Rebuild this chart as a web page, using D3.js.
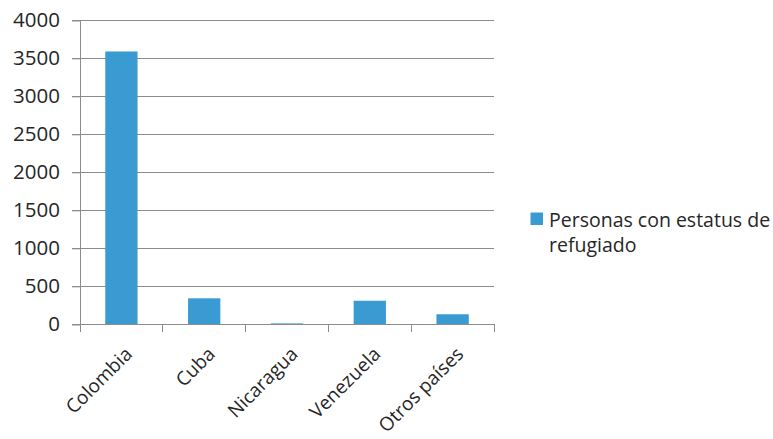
<!DOCTYPE html>
<html><head><meta charset="utf-8">
<script src="https://cdn.jsdelivr.net/npm/d3@7/dist/d3.min.js"></script>
<style>body{margin:0;background:#fff}svg{display:block}</style>
</head><body><svg id="c" width="773" height="439"></svg>
<script>
const categories = ["Colombia","Cuba","Nicaragua","Venezuela","Otros países"];
const values = [3590, 342, 12, 310, 132];
const yTicks = [0,500,1000,1500,2000,2500,3000,3500,4000];
const seriesName = "Personas con estatus de refugiado";

(function(){
const svg = d3.select("#c");
const font = "'Open Sans', sans-serif";
const fs = 19.5;
const txt = "#262626";
const mLeft = 80, mRight = 494, mTop = 20.3, mBottom = 324.3;
const x = d3.scaleBand().domain(categories).range([mLeft, mRight]).paddingInner(0.61).paddingOuter(0.305);
const y = d3.scaleLinear().domain([0, 4000]).range([mBottom, mTop]);

svg.append("g").selectAll("line").data(yTicks).join("line")
  .attr("x1", mLeft - 8).attr("x2", mRight)
  .attr("y1", d => y(d)).attr("y2", d => y(d))
  .attr("stroke", "#8c8c8c").attr("stroke-width", 1).attr("shape-rendering","crispEdges");

const ya = svg.append("g").attr("transform", `translate(${mLeft},0)`)
  .call(d3.axisLeft(y).tickValues(yTicks).tickSize(8).tickPadding(12).tickFormat(d3.format("d")));
ya.select(".domain").attr("stroke", "#8c8c8c");
ya.selectAll(".tick line").attr("stroke", "#8c8c8c");
ya.selectAll("text").attr("font-family", font).attr("font-size", 20.5).attr("fill", txt);

svg.append("g").selectAll("rect").data(categories).join("rect")
  .attr("x", d => x(d)).attr("width", x.bandwidth())
  .attr("y", (d,i) => y(values[i])).attr("height", (d,i) => mBottom - y(values[i]))
  .attr("fill", "#3a9bd3");

const step = x.step();
const xa = svg.append("g").attr("transform", `translate(0,${mBottom})`);
xa.append("line").attr("x1", mLeft).attr("x2", mRight).attr("stroke", "#8c8c8c").attr("shape-rendering","crispEdges");
xa.selectAll("line.t").data(d3.range(categories.length + 1)).join("line").attr("class","t")
  .attr("x1", i => mLeft + i*step).attr("x2", i => mLeft + i*step)
  .attr("y1", 0).attr("y2", 8).attr("stroke", "#8c8c8c").attr("shape-rendering","crispEdges");
xa.selectAll("text").data(categories).join("text")
  .attr("transform", d => `translate(${x(d) + x.bandwidth()/2 + 12},${31}) rotate(-45)`)
  .attr("text-anchor", "end")
  .attr("font-family", font).attr("font-size", 19).attr("fill", txt)
  .text(d => d);

const lg = svg.append("g").attr("transform", "translate(530.5,212.5)");
lg.append("rect").attr("width", 12.5).attr("height", 12.5).attr("fill", "#3a9bd3");
const lt = lg.append("text").attr("font-family", font).attr("font-size", fs).attr("fill", txt);
lt.append("tspan").attr("x", 18.5).attr("y", 14).text("Personas con estatus de");
lt.append("tspan").attr("x", 18.5).attr("y", 39).text("refugiado");
})();
</script></body></html>
